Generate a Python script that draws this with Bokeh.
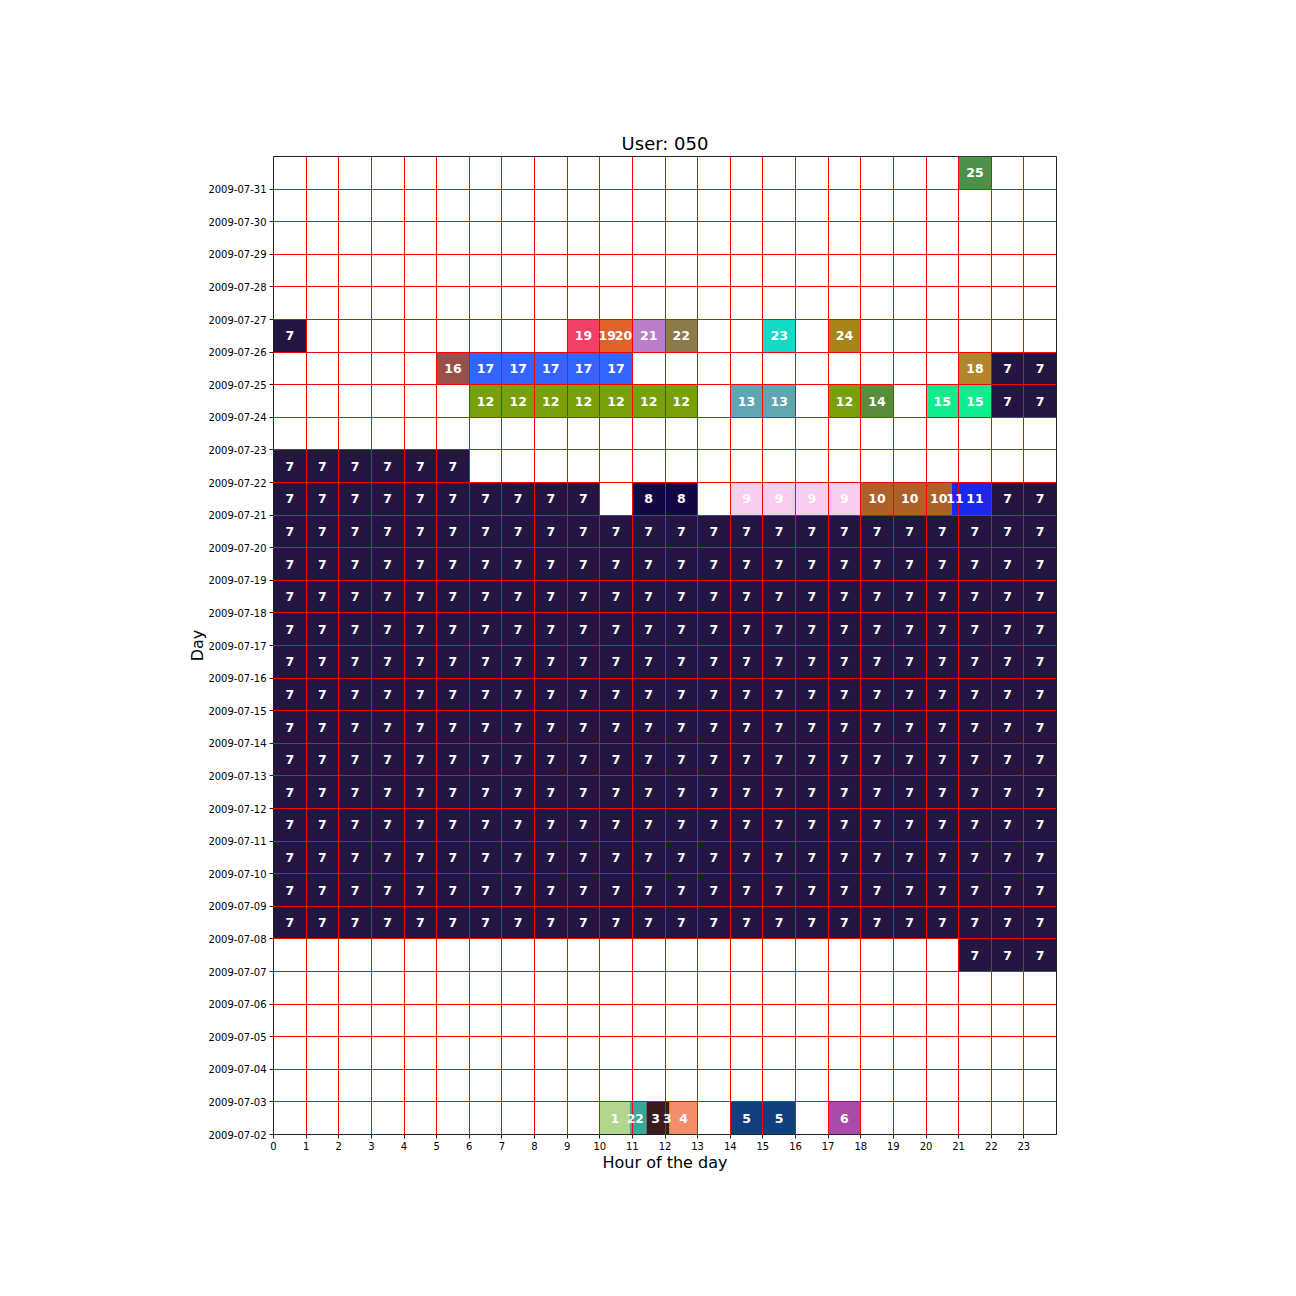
from bokeh.plotting import figure
from bokeh.models import FixedTicker, Range1d, ColumnDataSource
from bokeh.embed import file_html
from bokeh.resources import INLINE
from bokeh.core.properties import value

# ---------------- data ----------------
day_labels = ["2009-07-02", "2009-07-03", "2009-07-04", "2009-07-05", "2009-07-06",
              "2009-07-07", "2009-07-08", "2009-07-09", "2009-07-10", "2009-07-11",
              "2009-07-12", "2009-07-13", "2009-07-14", "2009-07-15", "2009-07-16",
              "2009-07-17", "2009-07-18", "2009-07-19", "2009-07-20", "2009-07-21",
              "2009-07-22", "2009-07-23", "2009-07-24", "2009-07-25", "2009-07-26",
              "2009-07-27", "2009-07-28", "2009-07-29", "2009-07-30", "2009-07-31"]
hour_ticks = list(range(24))

ALL7 = "7 7 7 7 7 7 7 7 7 7 7 7 7 7 7 7 7 7 7 7 7 7 7 7"
# hourly cluster label per day (hours 0..23); "." = empty, "*" = split hour (see below)
rows = {
    "2009-07-02": ". . . . . . . . . . * * * . 5 5 . 6 . . . . . .",
    "2009-07-07": ". . . . . . . . . . . . . . . . . . . . . 7 7 7",
    "2009-07-08": ALL7, "2009-07-09": ALL7, "2009-07-10": ALL7, "2009-07-11": ALL7,
    "2009-07-12": ALL7, "2009-07-13": ALL7, "2009-07-14": ALL7, "2009-07-15": ALL7,
    "2009-07-16": ALL7, "2009-07-17": ALL7, "2009-07-18": ALL7, "2009-07-19": ALL7,
    "2009-07-20": ALL7,
    "2009-07-21": "7 7 7 7 7 7 7 7 7 7 . 8 8 . 9 9 9 9 10 10 * 11 7 7",
    "2009-07-22": "7 7 7 7 7 7 . . . . . . . . . . . . . . . . . .",
    "2009-07-24": ". . . . . . 12 12 12 12 12 12 12 . 13 13 . 12 14 . 15 15 7 7",
    "2009-07-25": ". . . . . 16 17 17 17 17 17 . . . . . . . . . . 18 7 7",
    "2009-07-26": "7 . . . . . . . . 19 * 21 22 . . 23 . 24 . . . . . .",
    "2009-07-31": ". . . . . . . . . . . . . . . . . . . . . 25 . .",
}

# split hours: day, start hour, end hour, label, label position
split_day = ["2009-07-02", "2009-07-02", "2009-07-02", "2009-07-02", "2009-07-02", "2009-07-02",
             "2009-07-21", "2009-07-21", "2009-07-26", "2009-07-26"]
split_start = [10.0, 10.92, 11.0, 11.43, 12.0, 12.14, 20.0, 20.78, 10.0, 10.0]
split_end = [10.92, 11.0, 11.43, 12.0, 12.14, 13.0, 20.78, 21.0, 10.46, 11.0]
split_label = ["1", "2", "2", "3", "3", "4", "10", "11", "19", "20"]
split_text_x = [10.46, 10.96, 11.21, 11.71, 12.07, 12.57, 20.39, 20.89, 10.23, 10.73]

colors = {
    "1": "#B3D68E", "2": "#37A89A", "3": "#3B1B1D", "4": "#F38D6C", "5": "#113F80",
    "6": "#A94BA8", "7": "#231641", "8": "#130844", "9": "#F9CDEF", "10": "#AD6129",
    "11": "#1A28EE", "12": "#79A00A", "13": "#62A5B2", "14": "#5A8C3C", "15": "#10EC8E",
    "16": "#9A4F4B", "17": "#3464FF", "18": "#B3852A", "19": "#F2406A", "20": "#E0622B",
    "21": "#B87FC8", "22": "#8A7B4E", "23": "#14DAC8", "24": "#A58418", "25": "#4A924A",
}

# ---------------- build sources ----------------
L, R, B, T, C = [], [], [], [], []
tx, ty, tt = [], [], []
for day, s in rows.items():
    yi = day_labels.index(day)
    for h, lab in enumerate(s.split()):
        if lab in (".", "*"):
            continue
        L.append(h); R.append(h + 1); B.append(yi); T.append(yi + 1); C.append(colors[lab])
        tx.append(h + 0.5); ty.append(yi + 0.5); tt.append(lab)
for d, s0, s1, lab, xt in zip(split_day, split_start, split_end, split_label, split_text_x):
    yi = day_labels.index(d)
    L.append(s0); R.append(s1); B.append(yi); T.append(yi + 1); C.append(colors[lab])
    tx.append(xt); ty.append(yi + 0.5); tt.append(lab)

cells = ColumnDataSource(dict(left=L, right=R, bottom=B, top=T, color=C))
texts = ColumnDataSource(dict(x=tx, y=ty, text=tt))

# ---------------- figure ----------------
FONT = "DejaVu Sans"
p = figure(width=1296, height=1296, x_range=Range1d(0, 24), y_range=Range1d(0, 30),
           output_backend="svg", toolbar_location=None, title="User: 050",
           min_border_left=273, min_border_right=240, min_border_top=156, min_border_bottom=162)

p.quad(left="left", right="right", bottom="bottom", top="top", fill_color="color",
       line_color=None, source=cells)
tr = p.text(x="x", y="y", text="text", source=texts, text_align="center",
            text_baseline="middle", text_color="white", text_font=value(FONT),
            text_font_style="bold", text_font_size="12.5px")
tr.level = "annotation"

p.title.text_font = FONT
p.title.text_font_size = "18px"
p.title.text_font_style = "normal"
p.title.align = "center"
p.title.text_color = "black"
p.title.standoff = 6

p.xaxis.ticker = FixedTicker(ticks=hour_ticks)
p.yaxis.ticker = FixedTicker(ticks=list(range(len(day_labels))))
p.yaxis.major_label_overrides = {i: d for i, d in enumerate(day_labels)}

for ax in (p.xaxis, p.yaxis):
    ax.major_label_text_font = FONT
    ax.major_label_text_font_size = "10px"
    ax.major_label_text_color = "black"
    ax.major_tick_out = 4
    ax.major_tick_in = 0
    ax.minor_tick_out = 0
    ax.minor_tick_in = 0
    ax.major_tick_line_color = "#222222"
    ax.axis_line_color = "#222222"
    ax.major_label_standoff = 3
    ax.axis_label_text_font = FONT
    ax.axis_label_text_font_size = "16px"
    ax.axis_label_text_font_style = "normal"
    ax.axis_label_text_color = "black"
p.xaxis.axis_label = "Hour of the day"
p.yaxis.axis_label = "Day"
p.xaxis.axis_label_standoff = 0
p.yaxis.axis_label_standoff = -2

p.xgrid.ticker = FixedTicker(ticks=list(range(1, 24)))
p.ygrid.ticker = FixedTicker(ticks=list(range(1, 30)))
for g in (p.xgrid, p.ygrid):
    g.grid_line_color = "red"
    g.grid_line_width = 1
    g.grid_line_alpha = 1.0
    g.level = "guide"

p.outline_line_color = "#222222"
p.outline_line_width = 1
p.outline_line_alpha = 1.0
p.background_fill_color = "white"
p.border_fill_color = "white"

open("out.html", "w").write(file_html(p, INLINE))
